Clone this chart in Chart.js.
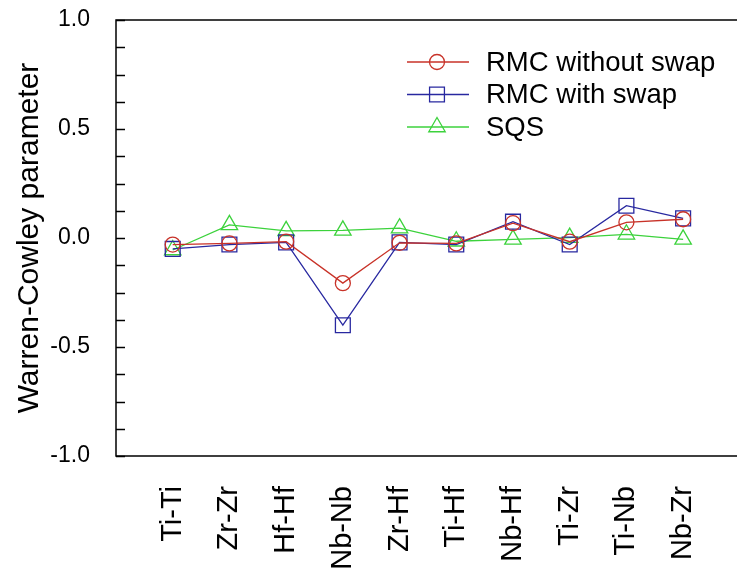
<!DOCTYPE html>
<html>
<head>
<meta charset="utf-8">
<script src="https://cdn.jsdelivr.net/npm/chart.js@4"></script>
<style>
  body { margin: 0; background: #fff; }
  #wrap { width: 737px; height: 571px; }
</style>
</head>
<body>
<div id="wrap"><canvas id="wc-chart"></canvas></div>
<script>
const categories = ['Ti-Ti', 'Zr-Zr', 'Hf-Hf', 'Nb-Nb', 'Zr-Hf', 'Ti-Hf', 'Nb-Hf', 'Ti-Zr', 'Ti-Nb', 'Nb-Zr'];
const rmcWithoutSwap = [-0.03, -0.025, -0.017, -0.207, -0.022, -0.025, 0.068, -0.017, 0.072, 0.086];
const rmcWithSwap = [-0.05, -0.03, -0.02, -0.40, -0.02, -0.03, 0.075, -0.03, 0.148, 0.09];
const sqs = [-0.055, 0.06, 0.033, 0.035, 0.045, -0.015, -0.006, 0.002, 0.017, -0.006];
const yTicks = [-1.0, -0.5, 0.0, 0.5, 1.0];

const RED = 'rgb(200, 50, 40)';
const BLUE = 'rgb(40, 40, 160)';
const GREEN = 'rgb(60, 210, 60)';
const FONT = 'Arial, "Liberation Sans", sans-serif';

function toPoints(arr) {
  return arr.map((v, i) => ({ x: i, y: v }));
}

// frame, inward ticks and the legend inside the plot
const framePlugin = {
  id: 'frame',
  afterDraw(chart) {
    const ctx = chart.ctx;
    const a = chart.chartArea;
    const ys = chart.scales.y;
    ctx.save();
    ctx.strokeStyle = '#000';
    ctx.lineWidth = 1.5;
    ctx.beginPath();
    ctx.moveTo(a.right + 2, a.top);
    ctx.lineTo(a.left, a.top);
    ctx.lineTo(a.left, a.bottom);
    ctx.lineTo(a.right + 2, a.bottom);
    ctx.stroke();
    for (let v = -1; v <= 1.0001; v += 0.125) {
      const py = Math.round(ys.getPixelForValue(v)) + 0.5;
      ctx.beginPath();
      ctx.moveTo(a.left, py);
      ctx.lineTo(a.left + 9, py);
      ctx.stroke();
    }

    // legend
    const lx0 = 407, lx1 = 469, mx = 437, tx = 486;
    chart.data.datasets.forEach((ds, i) => {
      const y = 62 + i * 32.5;
      ctx.strokeStyle = ds.borderColor;
      ctx.fillStyle = 'rgba(0,0,0,0)';
      ctx.lineWidth = ds.borderWidth;
      ctx.beginPath();
      ctx.moveTo(lx0, y);
      ctx.lineTo(lx1, y);
      ctx.stroke();
      Chart.helpers.drawPoint(ctx, {
        pointStyle: ds.pointStyle,
        radius: ds.pointRadius,
        borderWidth: ds.pointBorderWidth
      }, mx, y);
      ctx.fillStyle = '#000';
      ctx.font = '27.5px ' + FONT;
      ctx.textBaseline = 'middle';
      ctx.textAlign = 'left';
      ctx.fillText(ds.label, tx, y + 1);
    });
    ctx.restore();
  }
};

new Chart(document.getElementById('wc-chart').getContext('2d'), {
  type: 'line',
  data: {
    datasets: [
      {
        label: 'RMC without swap',
        data: toPoints(rmcWithoutSwap),
        borderColor: RED,
        backgroundColor: 'rgba(0,0,0,0)',
        borderWidth: 1.3,
        pointStyle: 'circle',
        pointRadius: 7.5,
        pointBorderWidth: 1.3
      },
      {
        label: 'RMC with swap',
        data: toPoints(rmcWithSwap),
        borderColor: BLUE,
        backgroundColor: 'rgba(0,0,0,0)',
        borderWidth: 1.3,
        pointStyle: 'rect',
        pointRadius: 10.5,
        pointBorderWidth: 1.3
      },
      {
        label: 'SQS',
        data: toPoints(sqs),
        borderColor: GREEN,
        backgroundColor: 'rgba(0,0,0,0)',
        borderWidth: 1.3,
        pointStyle: 'triangle',
        pointRadius: 9.5,
        pointBorderWidth: 1.3
      }
    ]
  },
  options: {
    responsive: true,
    maintainAspectRatio: false,
    animation: false,
    layout: { autoPadding: false, padding: { top: 20, right: 0, bottom: 0, left: 0 } },
    plugins: {
      legend: { display: false },
      tooltip: { enabled: false }
    },
    scales: {
      x: {
        type: 'linear',
        min: -1,
        max: 9.95,
        afterBuildTicks(scale) {
          scale.ticks = categories.map((c, i) => ({ value: i }));
        },
        afterFit(scale) {
          scale.height = 115;
          scale.paddingLeft = 0;
          scale.paddingRight = 0;
        },
        grid: { display: false, drawTicks: false },
        border: { display: false },
        ticks: {
          autoSkip: false,
          minRotation: 90,
          maxRotation: 90,
          padding: 30,
          color: '#000',
          font: { family: FONT, size: 29 },
          callback: (v) => categories[v] ?? ''
        }
      },
      y: {
        min: -1,
        max: 1,
        afterBuildTicks(scale) {
          scale.ticks = yTicks.map(v => ({ value: v }));
        },
        afterFit(scale) {
          scale.width = 116;
          scale.paddingTop = 0;
          scale.paddingBottom = 0;
        },
        grid: { display: false, drawTicks: false },
        border: { display: false },
        ticks: {
          padding: 26,
          color: '#000',
          font: { family: FONT, size: 23 },
          callback: (v) => v.toFixed(1)
        },
        title: {
          display: true,
          text: 'Warren-Cowley parameter',
          color: '#000',
          font: { family: FONT, size: 30 },
          padding: { top: 12, bottom: 0 }
        }
      }
    }
  },
  plugins: [framePlugin]
});
</script>
</body>
</html>
